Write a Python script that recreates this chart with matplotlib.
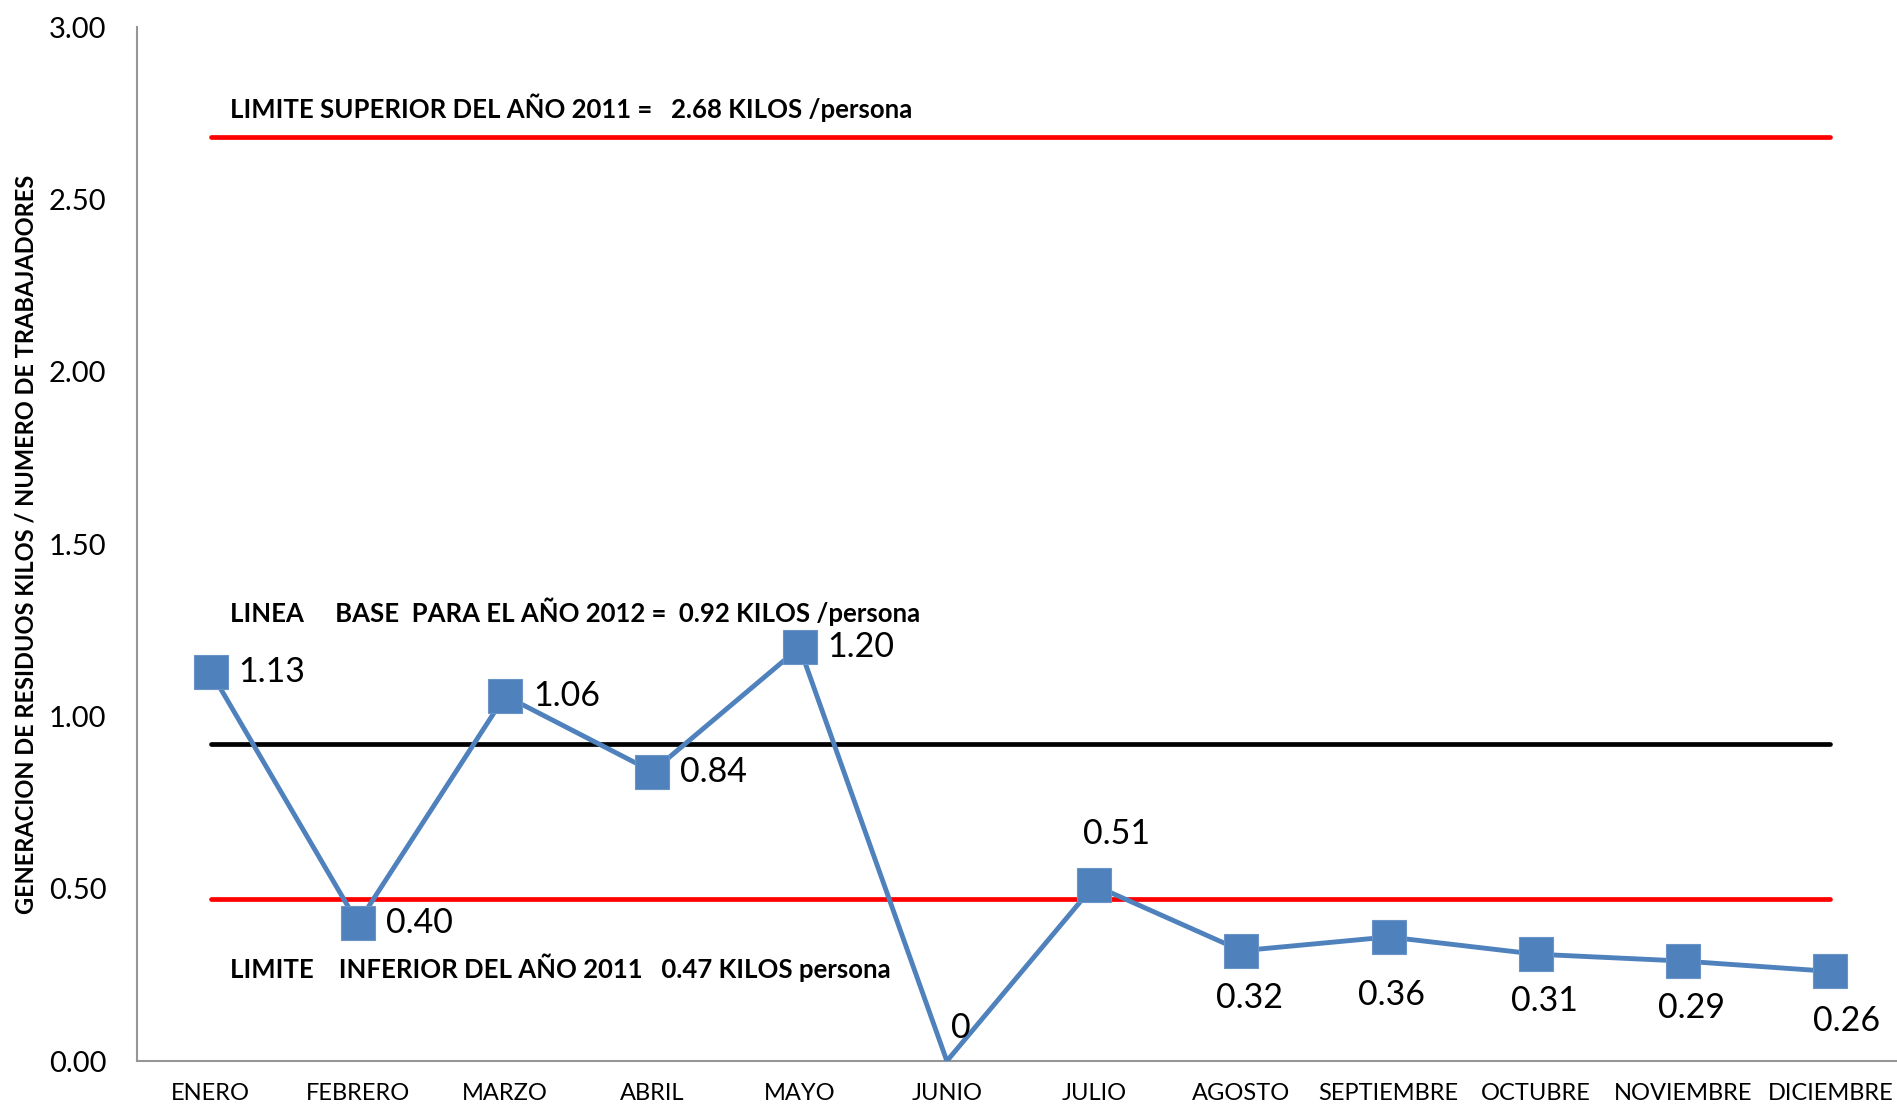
import matplotlib
matplotlib.use("Agg")
import matplotlib.pyplot as plt

meses = ["ENERO", "FEBRERO", "MARZO", "ABRIL", "MAYO", "JUNIO", "JULIO",
         "AGOSTO", "SEPTIEMBRE", "OCTUBRE", "NOVIEMBRE", "DICIEMBRE"]
valores = [1.13, 0.40, 1.06, 0.84, 1.20, 0.0, 0.51, 0.32, 0.36, 0.31, 0.29, 0.26]
etiquetas = ["1.13", "0.40", "1.06", "0.84", "1.20", "0", "0.51",
             "0.32", "0.36", "0.31", "0.29", "0.26"]
limite_superior = 2.68
linea_base = 0.92
limite_inferior = 0.47
y_ticks = [0.0, 0.5, 1.0, 1.5, 2.0, 2.5, 3.0]

plt.rcParams['font.family'] = ['Lato', 'DejaVu Sans']

fig = plt.figure(figsize=(18.97, 11.08), dpi=100)
ax = fig.add_axes([0.0722, 0.0424, 0.9315, 0.9332])

x = list(range(len(meses)))
azul = "#4F81BD"

# lineas de control
for nivel, col in [(limite_superior, "#FF0000"), (linea_base, "black"), (limite_inferior, "#FF0000")]:
    ax.plot([x[0], x[-1]], [nivel] * 2, color=col, lw=3.4, solid_capstyle="round", zorder=2)

# el punto en cero queda sin marcador (recortado en el original)
con_marca = [i for i, v in enumerate(valores) if v > 0]
ax.plot(x, valores, color=azul, lw=3.5, marker="s", markersize=24.5, markevery=con_marca,
        markerfacecolor=azul, markeredgecolor="#6A94C8", markeredgewidth=0.8, zorder=3)

# etiquetas de datos
for i, (v, t) in enumerate(zip(valores, etiquetas)):
    if i < 5:
        off, ha, va = (20, 0), "left", "center"
    elif i == 5:
        off, ha, va = (10, 24), "center", "center"
    elif i == 6:
        off, ha, va = (16, 37), "center", "center"
    elif i == 8:
        off, ha, va = (2, -42), "center", "center"
    elif i == 11:
        off, ha, va = (12, -36), "center", "center"
    else:
        off, ha, va = (6, -34), "center", "center"
    ax.annotate(t, (i, v), xytext=off, textcoords="offset points",
                ha=ha, va=va, fontsize=24.5, color="black", zorder=4)

ax.text(0.13, 2.765, "LIMITE SUPERIOR DEL AÑO 2011 =   2.68 KILOS /persona",
        fontsize=18.5, fontweight="bold", va="center", ha="left")
ax.text(0.13, 1.305, "LINEA     BASE  PARA EL AÑO 2012 =  0.92 KILOS /persona",
        fontsize=18.5, fontweight="bold", va="center", ha="left")
ax.text(0.13, 0.27, "LIMITE    INFERIOR DEL AÑO 2011   0.47 KILOS persona",
        fontsize=18.5, fontweight="bold", va="center", ha="left")

ax.set_xlim(-0.5, len(meses) - 0.5)
ax.set_ylim(0, 3.0)
ax.set_xticks(x)
ax.set_xticklabels(meses, fontsize=17)
ax.set_yticks(y_ticks)
ax.set_yticklabels([f"{t:.2f}" for t in y_ticks], fontsize=21)
ax.tick_params(axis="both", length=0)
ax.tick_params(axis="x", pad=16)
ax.tick_params(axis="y", pad=22)

ax.spines["top"].set_visible(False)
ax.spines["right"].set_visible(False)
ax.spines["left"].set_color("#969696")
ax.spines["bottom"].set_color("#969696")
ax.spines["left"].set_linewidth(1.5)
ax.spines["bottom"].set_linewidth(1.5)

fig.text(0.0135, 0.509, "GENERACION DE RESIDUOS KILOS / NUMERO DE TRABAJADORES",
         rotation=90, fontsize=17, fontweight="bold", ha="center", va="center")

fig.savefig("out.png", dpi=100)
